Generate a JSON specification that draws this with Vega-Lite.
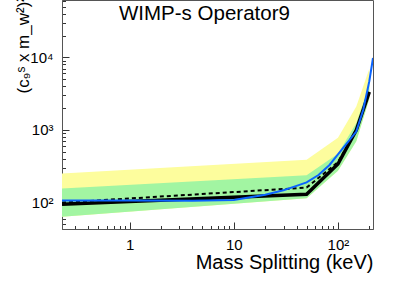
{
  "$schema": "https://vega.github.io/schema/vega-lite/v6.json",
  "width": 311,
  "height": 229,
  "autosize": {"type": "none"},
  "padding": {"left": 62, "top": 0, "right": 42, "bottom": 52},
  "background": "white",
  "config": {
    "view": {"stroke": "#555", "strokeWidth": 1},
    "font": "Liberation Sans"
  },
  "title": {
    "text": "WIMP-s Operator9",
    "anchor": "start",
    "frame": "group",
    "orient": "top",
    "offset": 0,
    "dx": 57,
    "dy": 47,
    "baseline": "alphabetic",
    "fontSize": 20.5,
    "font": "Liberation Sans",
    "fontWeight": "normal",
    "color": "black"
  },
  "datasets": {
    "bands": [
      {"x": 0.224, "lo": 64, "g_hi": 156, "y_hi": 251},
      {"x": 50, "lo": 115, "g_hi": 238, "y_hi": 388},
      {"x": 100, "lo": 275, "g_hi": 470, "y_hi": 780},
      {"x": 150, "lo": 700, "g_hi": 1250, "y_hi": 2100},
      {"x": 200, "lo": 2700, "g_hi": 4200, "y_hi": 7000}
    ],
    "expected": [
      {"x": 0.224, "y": 100},
      {"x": 50, "y": 161},
      {"x": 100, "y": 360},
      {"x": 150, "y": 1000},
      {"x": 200, "y": 3300}
    ],
    "observed": [
      {"x": 0.224, "y": 95},
      {"x": 50, "y": 130},
      {"x": 100, "y": 340},
      {"x": 150, "y": 1000},
      {"x": 200, "y": 3350}
    ],
    "blue": [
      {"x": 0.224, "y": 107},
      {"x": 1, "y": 107},
      {"x": 4, "y": 106},
      {"x": 10, "y": 109},
      {"x": 20, "y": 128},
      {"x": 30, "y": 148},
      {"x": 40, "y": 170},
      {"x": 50, "y": 190},
      {"x": 65, "y": 240},
      {"x": 83, "y": 330},
      {"x": 100, "y": 460},
      {"x": 150, "y": 950},
      {"x": 175, "y": 1900},
      {"x": 200, "y": 4700},
      {"x": 217, "y": 9800}
    ]
  },
  "layer": [
    {
      "data": {"name": "bands"},
      "mark": {"type": "area", "color": "#fdfd9d", "clip": true},
      "encoding": {
        "x": {
          "field": "x", "type": "quantitative",
          "scale": {"type": "log", "domain": [0.224, 217], "nice": false},
          "axis": {
            "values": [0.3,0.4,0.5,0.6,0.7,0.8,0.9,1,2,3,4,5,6,7,8,9,10,20,30,40,50,60,70,80,90,100,200],
            "labelExpr": "datum.value == 1 ? '1' : datum.value == 10 ? '10' : datum.value == 100 ? '10²' : ''",
            "tickSize": {"condition": {"test": "datum.value == 1 || datum.value == 10 || datum.value == 100", "value": -7}, "value": -3.5},
            "tickColor": "#333",
            "domainColor": "#555",
            "labelFont": "Liberation Sans",
            "labelFontSize": 15,
            "labelColor": "black",
            "labelPadding": 15,
            "labelOverlap": false,
            "labelFlush": false,
            "grid": false,
            "title": "Mass Splitting (keV)",
            "titleFont": "Liberation Sans",
            "titleFontSize": 20,
            "titleFontWeight": "normal",
            "titleColor": "black",
            "titleAnchor": "end",
            "titleAlign": "right",
            "titleX": 311,
            "titleY": 39,
            "titleBaseline": "alphabetic"
          }
        },
        "y": {
          "field": "lo", "type": "quantitative",
          "scale": {"type": "log", "domain": [43.3, 61700], "nice": false},
          "axis": {
            "values": [50,60,70,80,90,100,200,300,400,500,600,700,800,900,1000,2000,3000,4000,5000,6000,7000,8000,9000,10000,20000,30000,40000,50000,60000],
            "labelExpr": "datum.value == 100 ? '10²' : datum.value == 1000 ? '10³' : datum.value == 10000 ? '10⁴' : ''",
            "tickSize": {"condition": {"test": "datum.value == 100 || datum.value == 1000 || datum.value == 10000", "value": -7}, "value": -3.5},
            "tickColor": "#333",
            "domainColor": "#555",
            "labelFont": "Liberation Sans",
            "labelFontSize": 15,
            "labelColor": "black",
            "labelPadding": 16,
            "labelOverlap": false,
            "labelFlush": false,
            "grid": false,
            "title": "(c₉ˢ x m_w²)²",
            "titleFont": "Liberation Sans",
            "titleFontSize": 17,
            "titleFontWeight": "normal",
            "titleColor": "black",
            "titleAngle": 270,
            "titleAlign": "left",
            "titleBaseline": "alphabetic",
            "titleX": -34,
            "titleY": 93
          }
        },
        "y2": {"field": "y_hi"}
      }
    },
    {
      "data": {"name": "bands"},
      "mark": {"type": "area", "color": "#a2f5a2", "clip": true},
      "encoding": {
        "x": {"field": "x", "type": "quantitative"},
        "y": {"field": "lo", "type": "quantitative"},
        "y2": {"field": "g_hi"}
      }
    },
    {
      "data": {"name": "expected"},
      "mark": {"type": "line", "color": "black", "strokeWidth": 2, "strokeDash": [4, 3], "clip": true},
      "encoding": {
        "x": {"field": "x", "type": "quantitative"},
        "y": {"field": "y", "type": "quantitative"}
      }
    },
    {
      "data": {"name": "observed"},
      "mark": {"type": "line", "color": "black", "strokeWidth": 3.5, "clip": true},
      "encoding": {
        "x": {"field": "x", "type": "quantitative"},
        "y": {"field": "y", "type": "quantitative"}
      }
    },
    {
      "data": {"name": "blue"},
      "mark": {"type": "line", "color": "#0a64ff", "strokeWidth": 2, "clip": true},
      "encoding": {
        "x": {"field": "x", "type": "quantitative"},
        "y": {"field": "y", "type": "quantitative"}
      }
    }
  ]
}
